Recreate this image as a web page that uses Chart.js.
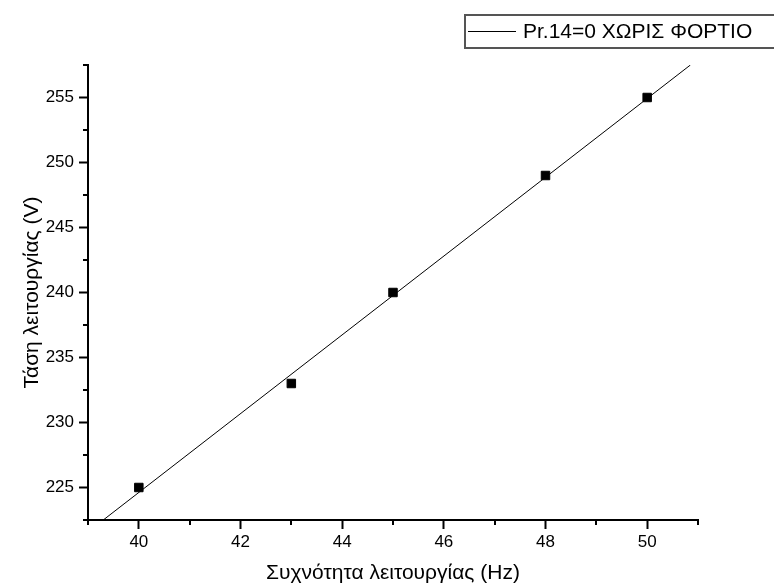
<!DOCTYPE html>
<html>
<head>
<meta charset="utf-8">
<script src="https://cdn.jsdelivr.net/npm/chart.js@4"></script>
<style>
  html, body { margin: 0; padding: 0; background: #fff; }
  #wrap { width: 774px; height: 588px; }
</style>
</head>
<body>
<div id="wrap"><canvas id="chart"></canvas></div>
<script>
// measured points
const freq = [40, 43, 45, 48, 50];
const voltage = [225, 233, 240, 249, 255];
// fitted line, ends
const fitFreq = [39.3, 50.85];
const fitVolt = [222.5, 257.5];

// ticks
const xTicks = [40, 42, 44, 46, 48, 50];
const yTicks = [225, 230, 235, 240, 245, 250, 255];
const xMinor = [39, 41, 43, 45, 47, 49, 51];
const yMinor = [222.5, 227.5, 232.5, 237.5, 242.5, 247.5, 252.5, 257.5];

const legendText = "Pr.14=0 ΧΩΡΙΣ ΦΟΡΤΙΟ";
const xTitle = "Συχνότητα λειτουργίας (Hz)";
const yTitle = "Τάση λειτουργίας (V)";

const FONT = "'Liberation Sans', Arial, sans-serif";

const points = freq.map((f, i) => ({ x: f, y: voltage[i] }));
const fit = fitFreq.map((f, i) => ({ x: f, y: fitVolt[i] }));

// minor ticks + boxed legend
const extras = {
  id: "extras",
  afterDraw(chart) {
    const { ctx, scales: { x, y } } = chart;
    ctx.save();
    ctx.strokeStyle = "#000";
    ctx.lineWidth = 2;
    ctx.beginPath();
    xMinor.forEach((v) => {
      const px = Math.round(x.getPixelForValue(v));
      ctx.moveTo(px, x.top);
      ctx.lineTo(px, x.top + 5);
    });
    yMinor.forEach((v) => {
      const py = Math.round(y.getPixelForValue(v));
      ctx.moveTo(y.right, py);
      ctx.lineTo(y.right - 5, py);
    });
    ctx.stroke();

    // legend
    ctx.strokeStyle = "#555";
    ctx.lineWidth = 2;
    ctx.strokeRect(465, 15, 330, 33);
    ctx.strokeStyle = "#000";
    ctx.lineWidth = 1;
    ctx.beginPath();
    ctx.moveTo(468, 31.5);
    ctx.lineTo(516, 31.5);
    ctx.stroke();
    ctx.fillStyle = "#000";
    ctx.font = "21px " + FONT;
    ctx.textBaseline = "middle";
    ctx.fillText(legendText, 523, 32);
    ctx.restore();
  },
};

const config = {
  type: "scatter",
  data: {
    datasets: [
      {
        label: legendText,
        data: points,
        showLine: false,
        pointStyle: "rect",
        pointRadius: 6,
        pointHoverRadius: 6,
        backgroundColor: "#000",
        borderColor: "#000",
        borderWidth: 1,
      },
      {
        label: "fit",
        data: fit,
        showLine: true,
        pointRadius: 0,
        borderColor: "#000",
        borderWidth: 1,
        fill: false,
      },
    ],
  },
  options: {
    responsive: false,
    animation: false,
    layout: { padding: { left: 0, top: 65, right: 76, bottom: 0 } },
    plugins: { legend: { display: false }, tooltip: { enabled: false } },
    scales: {
      x: {
        type: "linear",
        position: "bottom",
        min: 39,
        max: 51,
        afterBuildTicks: (s) => { s.ticks = xTicks.map((v) => ({ value: v })); },
        afterFit: (s) => { s.height = 68; },
        border: { display: true, color: "#000", width: 2 },
        grid: { drawOnChartArea: false, drawTicks: true, tickLength: 9, tickWidth: 2, tickColor: "#000" },
        ticks: { color: "#000", font: { family: FONT, size: 17 }, padding: 3, maxRotation: 0 },
        title: { display: true, text: xTitle, color: "#000", font: { family: FONT, size: 21 }, padding: { top: 0, bottom: 2.5 } },
      },
      y: {
        type: "linear",
        min: 222.5,
        max: 257.5,
        afterBuildTicks: (s) => { s.ticks = yTicks.map((v) => ({ value: v })); },
        afterFit: (s) => { s.width = 88; },
        border: { display: true, color: "#000", width: 2 },
        grid: { drawOnChartArea: false, drawTicks: true, tickLength: 9, tickWidth: 2, tickColor: "#000" },
        ticks: { color: "#000", font: { family: FONT, size: 17 }, padding: 5 },
        title: { display: true, text: yTitle, color: "#000", font: { family: FONT, size: 21 }, padding: { top: 20, bottom: 0 } },
      },
    },
  },
  plugins: [extras],
};

const canvas = document.getElementById("chart");
canvas.width = 774;
canvas.height = 588;
const chart = new Chart(canvas, config);
</script>
</body>
</html>
